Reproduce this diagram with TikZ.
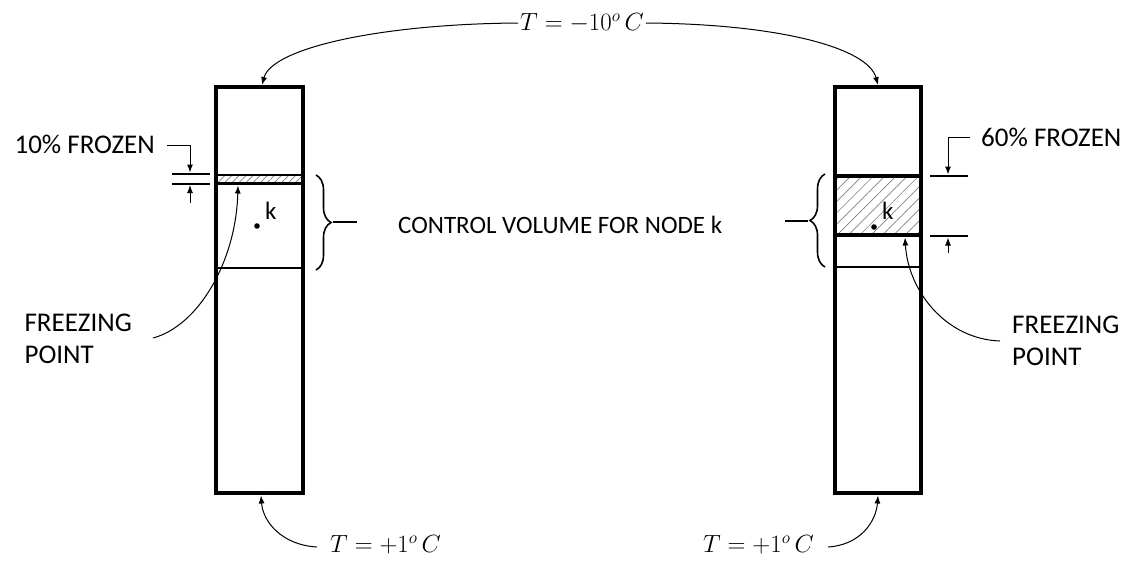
\documentclass[tikz,border=0pt]{standalone}
\usepackage{fontspec}
\setmainfont{Carlito}
\usetikzlibrary{arrows.meta,patterns.meta,decorations.pathreplacing}
\begin{document}
\begin{tikzpicture}[x=1pt,y=-1pt,
  col/.style={draw,line width=3.4pt},
  sep/.style={draw,line width=2.8pt},
  dim/.style={line width=2pt},
  thin/.style={line width=1pt},
  arr/.style={-{Latex[length=8pt,width=6pt]}},
  lbl/.style={font=\fontsize{25}{28}\selectfont,inner sep=0pt},
  flbl/.style={font=\fontsize{27}{30}\selectfont,inner sep=0pt},
  mlbl/.style={font=\fontsize{24}{27}\selectfont,inner sep=2pt},
  brc/.style={decorate,decoration={brace,amplitude=15pt},line width=1.6pt}]
\useasboundingbox (0,0) rectangle (1139,563);
% left column
\path[pattern={Lines[angle=45,distance=5pt,line width=0.7pt]},pattern color=gray] (216,175) rectangle (303,183.5);
\draw[sep] (216,175) -- (303,175);
\draw[sep] (216,183.5) -- (303,183.5);
\draw[sep] (216,268) -- (303,268);
\node[col,minimum width=87pt,minimum height=406pt,inner sep=0pt] (colL) at (259.5,290) {};
\fill (257,226) circle (2.8pt);
\node[lbl,anchor=base west] (kL) at (265,219) {k};
% left brace
\draw[brc] (316,175) -- (316,270);
\coordinate (bLt) at (333,222);
\coordinate (bLe) at (357,222);
\draw[line width=1.6pt] (bLt) -- (bLe);
\node[lbl,anchor=base west] (cv) at (398,233) {CONTROL VOLUME FOR NODE k};
% right column
\path[pattern={Lines[angle=45,distance=8pt,line width=0.7pt]},pattern color=gray] (835,176) rectangle (921,235);
\draw[line width=4.2pt] (835,176) rectangle (921,235);
\draw[sep] (835,267) -- (921,267);
\node[col,minimum width=86pt,minimum height=406pt,inner sep=0pt] (colR) at (878,290) {};
\fill (874,227) circle (2.8pt);
\node[lbl,anchor=base west] (kR) at (882,219) {k};
% right brace
\draw[brc] (825,267) -- (825,174);
\coordinate (bRt) at (808,221);
\coordinate (bRe) at (785,221);
\draw[line width=1.6pt] (bRt) -- (bRe);
% left dimension
\draw[dim] (172,174) -- (210,174);
\draw[dim] (172,183.5) -- (210,183.5);
\node[flbl,anchor=base east] (fz10) at (155,153) {10\% FROZEN};
\draw[thin,arr] (167,145) -- (190,145) -- (190,172.5);
\draw[thin,arr] (190,203) -- (190,185);
% right dimension
\draw[dim] (930,176) -- (968,176);
\draw[dim] (930,236) -- (968,236);
\node[flbl,anchor=base west] (fz60) at (981,146) {60\% FROZEN};
\draw[thin,arr] (970,137) -- (948,137) -- (948,174.5);
\draw[thin,arr] (948,253) -- (948,237.5);
% freezing points
\node[flbl,anchor=base east] (fpL1) at (132,331) {FREEZING};
\path (fpL1.base west) ++(0,32) node[flbl,anchor=base west] (fpL2) {POINT};
\draw[thin,arr] (153,338) .. controls (198,326) and (236,262) .. (238,185.5);
\node[flbl,anchor=base west] (fpR1) at (1012,333) {FREEZING};
\node[flbl,anchor=base west] (fpR2) at (1012,365) {POINT};
\draw[thin,arr] (1000,341) .. controls (945,339) and (908,290) .. (905,237.5);
% top temperature
\node[mlbl] (Ttop) at (582,23) {$T=-10^{o}\,C$};
\draw[thin,arr] (Ttop.west) .. controls (380,24) and (272,48) .. (262,85);
\draw[thin,arr] (Ttop.east) .. controls (780,24) and (868,48) .. (878,85);
% bottom temperatures
\node[mlbl,anchor=west] (TbL) at (328,545) {$T=+1^{o}\,C$};
\draw[thin,arr] (317,547) .. controls (282,545) and (263,522) .. (261,495.5);
\node[mlbl,anchor=east] (TbR) at (816,545) {$T=+1^{o}\,C$};
\draw[thin,arr] (828,547) .. controls (860,545) and (876,522) .. (878,495.5);
\end{tikzpicture}
\end{document}
